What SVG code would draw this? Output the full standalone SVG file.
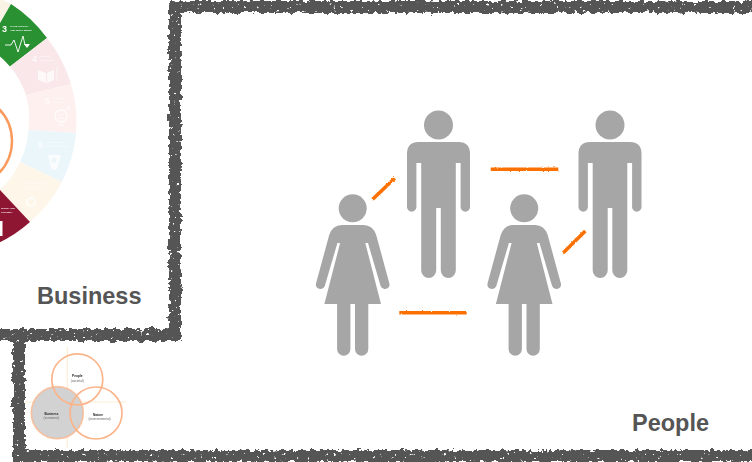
<svg xmlns="http://www.w3.org/2000/svg" width="752" height="462" viewBox="0 0 752 462">
<style>
.lbl{font-family:"Liberation Sans",Arial,sans-serif;font-weight:700;font-size:23.5px;fill:#555}
.fr{fill:none;stroke:#555;stroke-width:12}
.con{fill:none;stroke:#fb7000;stroke-width:3.6}
.fig{fill:#a6a6a6}
.tw{font-family:"Liberation Sans",Arial,sans-serif;font-weight:700;font-size:2.5px;fill:#fff}
.fd{opacity:.75}
.num{font-family:"Liberation Sans",Arial,sans-serif;font-weight:700;font-size:9px;fill:#fff}
.v{font-family:"Liberation Sans",Arial,sans-serif;font-size:3.2px;fill:#666;text-anchor:middle}
.vb{font-weight:700;fill:#222}
.ring{fill:none;stroke:#fbb48a;stroke-width:1.7}
.cross{stroke:#fdeed2;stroke-width:1.1}
</style>
<defs>
<filter id="rough" filterUnits="userSpaceOnUse" x="0" y="0" width="752" height="462">
<feTurbulence type="fractalNoise" baseFrequency="0.2" numOctaves="3" seed="4" result="n"/>
<feDisplacementMap in="SourceGraphic" in2="n" scale="7" xChannelSelector="R" yChannelSelector="G" result="d"/>
<feTurbulence type="fractalNoise" baseFrequency="0.3" numOctaves="2" seed="11" result="s"/>
<feColorMatrix in="s" type="matrix" values="0 0 0 0 0 0 0 0 0 0 0 0 0 0 0 14 0 0 0 -10" result="sp"/>
<feComposite in="d" in2="sp" operator="out"/>
</filter>
<filter id="fuzz" filterUnits="userSpaceOnUse" x="0" y="0" width="752" height="462">
<feTurbulence type="fractalNoise" baseFrequency="0.8" numOctaves="2" seed="7" result="n"/>
<feDisplacementMap in="SourceGraphic" in2="n" scale="2.2" xChannelSelector="R" yChannelSelector="G"/>
</filter>
<filter id="soft" filterUnits="userSpaceOnUse" x="0" y="0" width="752" height="462"><feGaussianBlur stdDeviation="0.55"/></filter>
<path id="man" class="fig" d="M-20 142H20Q31.5 142 31.5 154V207a4.7 4.7 0 0 1-9.4 0V163H17.3V270.5a7.5 7.5 0 0 1-15 0V208H-2.3V270.5a7.5 7.5 0 0 1-15 0V163H-22.1V207a4.7 4.7 0 0 1-9.4 0V154Q-31.5 142-20 142Z"/>
<path id="woman" class="fig" d="M-11 225H11Q20 225 23.5 235L36.7 283.5A4.6 4.6 0 0 1 27.9 286L15.3 243H12.6L28.3 304H15.6V349a6.65 6.65 0 0 1-13.3 0V304H-2.3V349a6.65 6.65 0 0 1-13.3 0V304H-28.3L-12.6 243H-15.3L-27.9 286A4.6 4.6 0 0 1-36.7 283.5L-23.5 235Q-20 225-11 225Z"/>
</defs>
<rect width="752" height="462" fill="#fff"/>
<g id="wheel" filter="url(#soft)">
<path d="M-35 -10.5A134 134 0 0 1 11 4L-13.7 46.7A86 86 0 0 0 -30 37Z" fill="#f9f3e6"/>
<path d="M11 4A134 134 0 0 1 47 38L10 66.5A86 86 0 0 0 -13.7 46.7Z" fill="#2b9132"/>
<path d="M47 38A134 134 0 0 1 71 84L26 95A86 86 0 0 0 10 66.5Z" fill="#f9e7e9"/>
<path d="M71 84A134 134 0 0 1 76 133L28.5 130A86 86 0 0 0 26 95Z" fill="#fdf0ee"/>
<path d="M76 133A134 134 0 0 1 62 182L20 162A86 86 0 0 0 28.5 130Z" fill="#ebf6fa"/>
<path d="M62 182A134 134 0 0 1 30 222L0 190A86 86 0 0 0 20 162Z" fill="#fdf6e9"/>
<path d="M30 222A134 134 0 0 1 -6 245L-20 200A86 86 0 0 0 0 190Z" fill="#8f1433"/>
<text class="num" x="2" y="32">3</text>
<text class="tw" x="10" y="27">GOOD HEALTH</text>
<text class="tw" x="10" y="31">AND WELL-BEING</text>
<path d="M5 45H11L14 40L18 52L23 36L25 45H29" fill="none" stroke="#fff" stroke-width=".9"/>
<path d="M24 44h6l-3 4z" fill="#fff"/>
<g class="fd">
<text class="num" x="32" y="62">4</text>
<text class="tw" x="40" y="57">QUALITY</text>
<text class="tw" x="40" y="61">EDUCATION</text>
<path d="M38 70L46 73V83L38 80ZM54 70L47 73V83L54 80Z" fill="#fff"/>
<path d="M57 67V81" stroke="#fff" stroke-width=".8"/>
<text class="num" x="45" y="104">5</text>
<text class="tw" x="53" y="99">GENDER</text>
<text class="tw" x="53" y="103">EQUALITY</text>
<circle cx="61" cy="116" r="6" fill="none" stroke="#fff" stroke-width="1.4"/>
<path d="M61 122V127M58 125H64M65 111L69 107M66 107H69.5V110.5M58 115H64M58 118H64" fill="none" stroke="#fff" stroke-width="1"/>
<text class="num" x="38" y="148">6</text>
<text class="tw" x="46" y="143">CLEAN WATER</text>
<text class="tw" x="46" y="147">AND SANITATION</text>
<path d="M48 155H61L57 169L54 170L51 168Z" fill="#fff"/>
<circle cx="54" cy="160" r="2.5" fill="#ebf6fa"/>
<text class="tw" x="16" y="185">7</text>
<text class="tw" x="24" y="184">AFFORDABLE AND</text>
<text class="tw" x="24" y="188">CLEAN ENERGY</text>
<circle cx="31" cy="202" r="4" fill="none" stroke="#fff" stroke-width="1.8"/>
</g>
<text class="tw" x="1" y="209">WORK AND</text>
<text class="tw" x="1" y="213">GROWTH</text>
<path d="M0 221H2.5V236H0Z" fill="#fff"/>
<circle cx="-34" cy="141" r="46" fill="none" stroke="#fb9a5c" stroke-width="2.4"/>
</g>
<g id="venn" filter="url(#soft)">
<path class="cross" d="M67.3 347V448M25 402H126"/>
<circle cx="57.3" cy="412.7" r="26" fill="#d2d2d2"/>
<circle class="ring" cx="77.3" cy="379.3" r="25.5"/>
<circle class="ring" cx="96" cy="413" r="26"/>
<circle class="ring" cx="57.3" cy="412.7" r="26" stroke-opacity=".75"/>
<text class="v vb" x="77.3" y="377">People</text>
<text class="v" x="77.3" y="381.5">(societal)</text>
<text class="v vb" x="51.5" y="414.5">Business</text>
<text class="v" x="51.5" y="419">(economic)</text>
<text class="v vb" x="98" y="415.5">Nature</text>
<text class="v" x="99.5" y="419.5">(environmental)</text>
</g>
<g id="frame" filter="url(#rough)">
<path class="fr" d="M756 7H175V335"/>
<path class="fr" d="M-6 335H180"/>
<path class="fr" d="M19 335V456H756"/>
</g>
<g id="man-1"><circle class="fig" cx="438.5" cy="125" r="14.5"/><use href="#man" x="438.5"/></g>
<g id="man-2"><circle class="fig" cx="610" cy="125" r="14.5"/><use href="#man" x="610"/></g>
<g id="woman-1"><circle class="fig" cx="352.7" cy="208.3" r="14"/><use href="#woman" x="352.7"/></g>
<g id="woman-2"><circle class="fig" cx="524.2" cy="208.3" r="14"/><use href="#woman" x="524.2"/></g>
<g id="connectors" filter="url(#fuzz)">
<path class="con" d="M372.7 199.3L394.7 178.3"/>
<path class="con" d="M490.7 169.3H558.3"/>
<path class="con" d="M399.3 312.7H466.7"/>
<path class="con" d="M563.3 252.7L585.3 231"/>
</g>
<text class="lbl" x="37" y="304">Business</text>
<text class="lbl" x="632" y="431">People</text>
</svg>
